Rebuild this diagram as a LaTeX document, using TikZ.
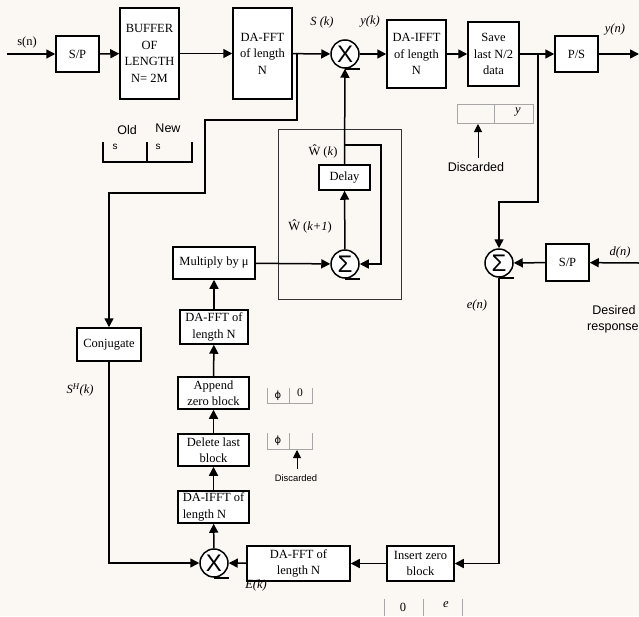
\documentclass[tikz,border=0pt]{standalone}
\usepackage{fontspec}
\setmainfont{Liberation Serif}
\newfontfamily\arialf{Liberation Sans}
\newfontfamily\djf{DejaVu Sans}
\usetikzlibrary{arrows.meta}
\begin{document}
\begin{tikzpicture}[x=1pt,y=-1pt,
  blk/.style={draw, line width=1.5pt, fill=white, align=center, inner sep=0pt,
    font=\fontsize{12.5}{16.5}\selectfont},
  sumc/.style={circle, draw, line width=1.5pt, fill=white, minimum size=28pt, inner sep=0pt,
    font=\arialf\fontsize{24}{24}\selectfont},
  arr/.style={line width=1.5pt, -{Triangle[length=9pt,width=9pt]}},
  ln/.style={line width=1.5pt},
  grey/.style={draw=black!35, line width=0.6pt},
  lab/.style={font=\itshape\fontsize{12.5}{14}\selectfont, inner sep=0pt},
  slab/.style={font=\arialf\fontsize{12.5}{14}\selectfont, inner sep=0pt},
  thin arr/.style={line width=1pt, -{Triangle[length=8pt,width=8pt]}}]
\useasboundingbox[fill={rgb,255:red,251;green,247;blue,243}] (0,0) rectangle (639,616);
% loop box
\draw[line width=0.8pt, black!80] (278,129) rectangle (401,299);
% nodes
\node[blk, minimum width=43pt, minimum height=36pt] (sp1) at (77.5,54) {S/P};
\node[blk, minimum width=59pt, minimum height=91pt] (buf) at (149.5,53.5) {BUFFER\\OF\\LENGTH\\N= 2M};
\node[blk, minimum width=59pt, minimum height=91pt] (fft1) at (262.5,53.5) {DA-FFT\\of length\\N};
\node[sumc] (x1) at (345,54) {X};
\node[blk, minimum width=59pt, minimum height=68pt] (ifft1) at (416.5,54) {DA-IFFT\\of length\\N};
\node[blk, minimum width=51pt, minimum height=64pt] (save) at (493.5,54) {Save\\last N/2\\data};
\node[blk, minimum width=43pt, minimum height=36pt] (ps) at (576.5,54) {P/S};
\coordinate (in) at (7,54);
\coordinate (out) at (639,54);
\node[blk, minimum width=51pt, minimum height=25pt] (delay) at (344.5,177.5) {Delay};
\node[sumc] (sigw) at (345,264) {Σ};
\node[sumc] (sumd) at (499,263) {Σ};
\node[blk, minimum width=43pt, minimum height=37pt] (sp2) at (567.5,262.5) {S/P};
\coordinate (din) at (639,263);
\node[blk, minimum width=64pt, minimum height=33pt] (conj) at (109,344.5) {Conjugate};
\node[blk, minimum width=82pt, minimum height=32pt] (mu) at (214,263) {Multiply by μ};
\node[blk, minimum width=68pt, minimum height=34pt] (fft2) at (214,327) {DA-FFT of\\length N};
\node[blk, minimum width=71pt, minimum height=32pt] (app) at (213.5,393) {Append\\zero block};
\node[blk, minimum width=71pt, minimum height=32pt] (del) at (213.5,450) {Delete last\\block};
\node[blk, minimum width=71pt, minimum height=32pt, align=left] (ifft2) at (213.5,507) {DA-IFFT of\\length N};
\node[sumc] (x2) at (214,563) {X};
\node[blk, minimum width=103pt, minimum height=35pt] (fft3) at (298.5,563.5) {DA-FFT of\\length N};
\node[blk, minimum width=67pt, minimum height=35pt] (ins) at (420.5,563.5) {Insert zero\\block};
% connectors
\draw[arr] (in) -- (sp1);
\draw[arr] (sp1) -- (buf);
\draw[arr] (buf) -- (fft1);
\draw[arr] (fft1) -- (x1);
\draw[arr] (x1) -- (ifft1);
\draw[arr] (ifft1) -- (save);
\draw[arr] (save) -- (ps);
\draw[arr] (ps) -- (out);
\coordinate (b1) at (297,54);
\draw[arr] (b1) -- (297,120) -| (205,193) -| (conj.north);
\coordinate (b2) at (538,54);
\draw[arr] (b2) -- (538,202) -| (sumd.north);
\draw[arr] (din) -- (sp2);
\draw[arr] (sp2) -- (sumd);
\draw[arr] (sumd.south) |- (ins.east);
\draw[arr] (ins) -- (fft3);
\draw[arr] (fft3) -- (x2);
\draw[arr] (conj.south) |- (x2.west);
\draw[arr] (x2) -- (ifft2);
\draw[arr] (ifft2) -- (del);
\draw[arr] (del) -- (app);
\draw[arr] (app) -- (fft2);
\draw[arr] (fft2) -- (mu);
\draw[arr] (mu) -- (sigw);
\draw[arr] (sigw) -- (delay);
\draw[arr] (delay) -- (x1);
\coordinate (lp) at (345,145);
\draw[arr] (lp) -- (381,145) |- (sigw.east);
\foreach \n in {x1,sigw,sumd,x2} \draw[ln] (\n.south) -- ++(15,0);
% labels
\node[font=\fontsize{12.5}{14}\selectfont, inner sep=0pt] (lsn) at (27,42) {s(n)};
\node[lab] (lsk) at (322,22) {S (k)};
\node[lab] (lyk) at (370,22) {y(k)};
\node[lab] (lyn) at (615,30) {y(n)};
\node[font=\fontsize{12.5}{14}\selectfont, inner sep=0pt] (lwk) at (323,151) {Ŵ (\textit{k})};
\node[font=\fontsize{12.5}{14}\selectfont, inner sep=0pt] (lwk1) at (310,226) {Ŵ (\textit{k+1})};
\node[lab] (ldn) at (620,252) {d(n)};
\node[lab] (len) at (477,305) {e(n)};
\node[lab] (lek) at (256,585) {E(k)};
\node[lab] (lsh) at (80,390) {S\textsuperscript{H}(k)};
\node[slab] (ldes) at (614,310) {Desired};
\node[slab, anchor=west] (lresp) at (587,328) {response};
% Old/New buffer icon
\node[slab] (lold) at (127,130) {Old};
\node[slab] (lnew) at (168,128) {New};
\draw[line width=2.5pt] (103,142) -- (103,162) -- (192,162) -- (192,142);
\draw[line width=2.5pt] (147,142) -- (147,162);
\node[font=\arialf\fontsize{10}{12}\selectfont, inner sep=0pt] (ls1) at (115,147) {s};
\node[font=\arialf\fontsize{10}{12}\selectfont, inner sep=0pt] (ls2) at (158,147) {s};
% y discarded box
\draw[grey] (457,104) rectangle (533,123);
\draw[grey] (494,104) -- (494,123);
\node[lab] (lyy) at (518,112) {y};
\node[slab] (ldisc1) at (476,167) {Discarded};
\coordinate (da1) at (478,158);
\draw[thin arr] (da1) -- (478,124);
% phi boxes
\draw[grey] (267,388) -- (267,403) -- (312,403) -- (312,388);
\draw[grey] (289,388) -- (289,403);
\node[font=\djf\fontsize{10}{12}\selectfont, inner sep=0pt] (lph1) at (278,396) {ϕ};
\node[font=\fontsize{11.5}{12}\selectfont, inner sep=0pt] (l01) at (300,393) {0};
\draw[grey] (267,433) -- (267,449) -- (312,449) -- (312,433);
\draw[grey] (289,433) -- (289,449);
\node[font=\djf\fontsize{10}{12}\selectfont, inner sep=0pt] (lph2) at (278,441) {ϕ};
\coordinate (da2) at (297,469);
\draw[thin arr] (da2) -- (297,450);
\node[font=\arialf\fontsize{9.4}{11}\selectfont, inner sep=0pt] (ldisc2) at (296,478) {Discarded};
% bottom 0 e box
\draw[grey] (384,599) -- (384,616);
\draw[grey] (423,599) -- (423,616);
\draw[grey] (462,599) -- (462,616);
\node[font=\fontsize{12.5}{14}\selectfont, inner sep=0pt] (l02) at (403,607) {0};
\node[lab] (lee) at (446,605) {e};
\end{tikzpicture}
\end{document}
